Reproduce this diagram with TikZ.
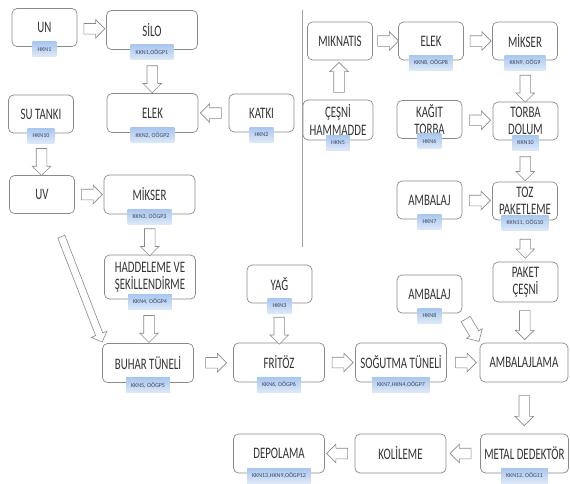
\documentclass[tikz,border=0pt]{standalone}
\usepackage{fontspec}
\setmainfont{Carlito}
\newfontfamily\boxfont{Carlito}[FakeStretch=0.68]
\usetikzlibrary{shapes.arrows,calc}

\definecolor{boxline}{HTML}{8A8A8A}
\definecolor{boxtext}{HTML}{333333}
\definecolor{tagtop}{HTML}{A9C7EF}
\definecolor{tagbot}{HTML}{DDE9F9}
\definecolor{tagtext}{HTML}{3C4660}

\tikzset{
  box/.style={draw=boxline, line width=.7pt, rounded corners=5pt, fill=white,
    text=boxtext, align=center, inner sep=0pt,
    font=\boxfont\fontsize{16}{17.5}\selectfont},
  small/.style={box, minimum width=65pt, minimum height=38pt},
  wide/.style={box, minimum width=91pt, minimum height=39pt},
  tag/.style={top color=tagtop, bottom color=tagbot, text=tagtext,
    font=\fontsize{6}{7}\selectfont, inner xsep=5pt, inner ysep=0pt,
    minimum height=15pt, yshift=-2.5pt},
  blk/.style={single arrow, draw=boxline, fill=white, line width=.6pt,
    inner sep=5pt, single arrow head extend=4pt},
  rarr/.style={blk, minimum height=21pt},
  larr/.style={blk, minimum height=21pt, rotate=180},
  darr/.style={blk, minimum height=27pt, rotate=-90},
  uarr/.style={blk, minimum height=27pt, rotate=90}
}

\begin{document}
\begin{tikzpicture}[x=1pt,y=-1pt]
  \useasboundingbox (0,0) rectangle (570,483);

  % left half
  \node[small] (un)       at (44.5,27.5)  {UN};
  \node[wide]  (silo)     at (152,30)     {SİLO};
  \node[small] (sutanki)  at (41,114)     {SU TANKI};
  \node[wide]  (elek)     at (152.5,113)  {ELEK};
  \node[small] (katki)    at (261.5,113)  {KATKI};
  \node[small] (uv)       at (42,194.5)   {UV};
  \node[wide]  (mikser)   at (149.5,194.5) {MİKSER};
  \node[wide, minimum height=44pt] (hadde) at (150,277) {HADDELEME VE\\ŞEKİLLENDİRME};
  \node[wide]  (buhar)    at (148,363)    {BUHAR TÜNELİ};
  \node[small] (yag)      at (279.5,284)  {YAĞ};

  % bottom row
  \node[wide]  (fritoz)   at (279,362.5)  {FRİTÖZ};
  \node[wide]  (sogutma)  at (401,362.5)  {SOĞUTMA TÜNELİ};
  \node[wide, minimum width=88pt] (ambalajlama) at (524,362.5) {AMBALAJLAMA};
  \node[wide, minimum width=88pt] (metal) at (524.5,453.5) {METAL DEDEKTÖR};
  \node[wide]  (kolileme) at (400.5,453.5) {KOLİLEME};
  \node[wide]  (depolama) at (279,453.5)  {DEPOLAMA};

  % right half
  \node[small] (miknatis) at (340,41)     {MIKNATIS};
  \node[small] (elekb)    at (431,41)     {ELEK};
  \node[small] (mikserb)  at (525,41)     {MİKSER};
  \node[small, minimum width=70pt, minimum height=40pt] (cesni) at (338,120) {ÇEŞNİ\\HAMMADDE};
  \node[small] (kagit)    at (429.5,119.5) {KAĞIT\\TORBA};
  \node[small] (torba)    at (525.5,121)  {TORBA\\DOLUM};
  \node[small] (ambalaja) at (429.5,200)  {AMBALAJ};
  \node[small] (toz)      at (525,201)    {TOZ\\PAKETLEME};
  \node[small, minimum height=40pt] (paket) at (525.5,282) {PAKET\\ÇEŞNİ};
  \node[small] (ambalajb) at (429.5,294)  {AMBALAJ};

  \draw[boxline!80, line width=.6pt] (302,10) -- (302,247);

  \begin{scope}[every node/.style={tag}]
    \node (un-t)       at (un.south)       {HKN1};
    \node (silo-t)     at (silo.south)     {KKN1,OÖGP1};
    \node (sutanki-t)  at (sutanki.south)  {HKN10};
    \node (elek-t)     at (elek.south)     {KKN2, OÖGP2};
    \node (katki-t)    at (katki.south)    {HKN2};
    \node (mikser-t)   at (mikser.south)   {KKN3, OÖGP3};
    \node (hadde-t)    at (hadde.south)    {KKN4, OÖGP4};
    \node (buhar-t)    at (buhar.south)    {KKN5, OÖGP5};
    \node (yag-t)      at (yag.south)      {HKN3};
    \node (fritoz-t)   at (fritoz.south)   {KKN6, OÖGP6};
    \node (sogutma-t)  at (sogutma.south)  {KKN7,HKN4,OÖGP7};
    \node (metal-t)    at (metal.south)    {KKN12, OÖG11};
    \node (depolama-t) at (depolama.south) {KKN13,HKN9,OÖGP12};
    \node (elekb-t)    at (elekb.south)    {KKN8, OÖGP8};
    \node (mikserb-t)  at (mikserb.south)  {KKN9, OÖG9};
    \node (cesni-t)    at (cesni.south)    {HKN5};
    \node (kagit-t)    at (kagit.south)    {HKN6};
    \node (torba-t)    at (torba.south)    {KKN10};
    \node (ambalaja-t) at (ambalaja.south) {HKN7};
    \node (toz-t)      at (toz.south)      {KKN11, OÖG10};
    \node (ambalajb-t) at (ambalajb.south) {HKN8};
  \end{scope}

  % block arrows
  \node[rarr] (a1)  at ($(un.east)!.5!(silo.west)$) {};
  \node[darr] (a2)  at ($(silo-t.south)!.5!(elek.north)$) {};
  \node[larr] (a3)  at ($(katki.west)!.5!(elek.east)$) {};
  \node[darr] (a4)  at ($(sutanki-t.south)!.5!(uv.north)$) {};
  \node[rarr] (a5)  at ($(uv.east)!.5!(mikser.west)$) {};
  \node[darr] (a6)  at ($(mikser-t.south)!.5!(hadde.north)$) {};
  \node[darr] (a7)  at ($(hadde-t.south)!.5!(buhar.north)$) {};
  \coordinate (bigtail) at (60,232);
  \node[blk, inner sep=3.5pt, single arrow head extend=4.5pt,
        minimum height=113pt, rotate=-68.8] (a8) at ($(bigtail)!.5!(buhar.north west)$) {};
  \node[rarr] (a9)  at ($(buhar.east)!.5!(fritoz.west)$) {};
  \node[darr] (a10) at ($(yag-t.south)!.5!(fritoz.north)$) {};
  \node[rarr] (a11) at ($(fritoz.east)!.5!(sogutma.west)$) {};
  \node[rarr] (a12) at ($(sogutma.east)!.5!(ambalajlama.west)$) {};
  \node[darr, minimum height=30pt] (a13) at ($(ambalajlama.south)!.5!(metal.north)$) {};
  \node[larr] (a14) at ($(metal.west)!.5!(kolileme.east)$) {};
  \node[larr] (a15) at ($(kolileme.west)!.5!(depolama.east)$) {};
  \node[rarr] (a16) at ($(miknatis.east)!.5!(elekb.west)$) {};
  \node[rarr] (a17) at ($(elekb.east)!.5!(mikserb.west)$) {};
  \node[darr] (a18) at ($(mikserb-t.south)!.5!(torba.north)$) {};
  \node[uarr, minimum height=30pt] (a19) at ($(cesni.north)!.5!(miknatis.south)$) {};
  \node[rarr] (a20) at ($(kagit.east)!.5!(torba.west)$) {};
  \node[darr, minimum height=24pt] (a21) at ($(torba-t.south)!.5!(toz.north)$) {};
  \node[rarr] (a22) at ($(ambalaja.east)!.5!(toz.west)$) {};
  \node[darr, minimum height=19pt] (a23) at ($(toz-t.south)!.5!(paket.north)$) {};
  \node[darr, minimum height=29pt] (a24) at ($(paket.south)!.5!(ambalajlama.north)$) {};
  \node[blk, minimum height=26pt, rotate=-59] (a25) at ($(ambalajb.south east)!.5!(ambalajlama.north west)$) {};

\end{tikzpicture}
\end{document}
